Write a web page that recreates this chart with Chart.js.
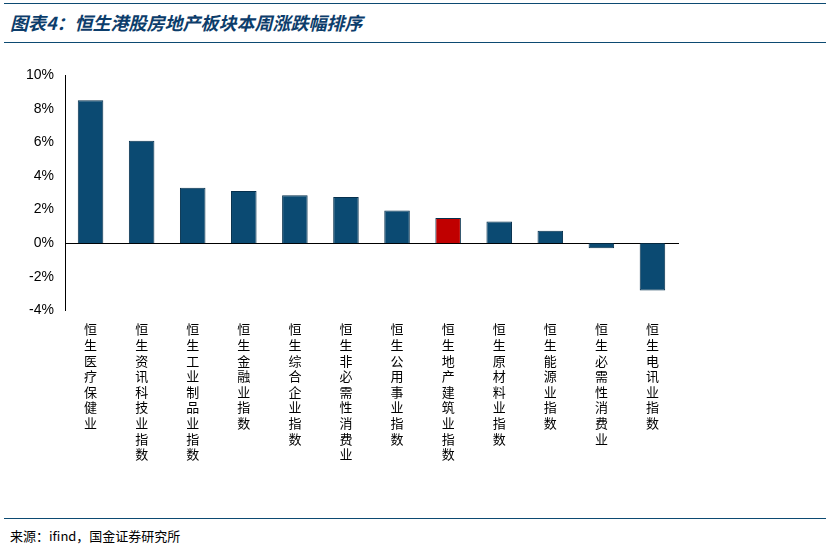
<!DOCTYPE html>
<html><head><meta charset="utf-8">
<script src="https://cdn.jsdelivr.net/npm/chart.js@4"></script>
<style>
body{margin:0;background:#fff;font-family:"Noto Sans CJK SC",sans-serif;}
#wrap{position:relative;width:831px;height:549px;}
.title{position:absolute;left:10px;top:9px;font-size:18px;font-weight:bold;font-style:italic;color:#0c3d6b;}
.hl{position:absolute;left:4px;width:822px;border-top:1.5px solid #0c4a72;}
.src{position:absolute;left:10px;top:526px;font-size:13px;color:#000;}
#c{position:absolute;left:0;top:55px;}
</style></head><body>
<div id="wrap">
<div class="hl" style="top:3px"></div>
<div class="title">图表4：恒生港股房地产板块本周涨跌幅排序</div>
<div class="hl" style="top:42px"></div>
<canvas id="c" width="700" height="410"></canvas>
<div class="hl" style="top:518px"></div>
<div class="src">来源：ifind，国金证券研究所</div>
</div>
<script>
const categories = ['恒生医疗保健业','恒生资讯科技业指数','恒生工业制品业指数','恒生金融业指数','恒生综合企业指数','恒生非必需性消费业','恒生公用事业指数','恒生地产建筑业指数','恒生原材料业指数','恒生能源业指数','恒生必需性消费业','恒生电讯业指数'];
const changes = [8.5, 6.1, 3.3, 3.1, 2.85, 2.75, 1.95, 1.5, 1.3, 0.75, -0.3, -2.8];
const highlight = '恒生地产建筑业指数';

const colors = categories.map(c => c === highlight ? '#c00000' : '#0b4a72');
new Chart(document.getElementById('c'), {
    type: 'bar',
    data: {
        labels: categories.map(c => c.split('')),
        datasets: [{ data: changes, backgroundColor: colors, borderColor: '#06304d', borderWidth: 1, barPercentage: 0.5, categoryPercentage: 1 }],
    },
    options: {
        responsive: false,
        animation: false,
        layout: { padding: { left: 10, right: 22, top: 20 } },
        plugins: { legend: { display: false }, tooltip: { enabled: false } },
        scales: {
            x: {
                position: { y: 0 },
                grid: { display: false, drawTicks: true },
                border: { color: '#000' },
                ticks: { display: false },
            },
            x2: {
                type: 'category',
                labels: categories.map(c => c.split('')),
                position: 'bottom',
                grid: { display: false },
                border: { display: false },
                ticks: { color: '#000', font: { size: 13, family: 'Noto Sans CJK SC' }, maxRotation: 0, autoSkip: false, lineHeight: 1.3 },
            },
            y: {
                min: -4, max: 10,
                grid: { display: false },
                border: { color: '#000' },
                ticks: { stepSize: 2, color: '#000', font: { size: 14 }, callback: (v) => v + '%' },
                afterFit: (s) => { s.width = 55; },
            },
        },
    },
});
</script>
</body></html>
